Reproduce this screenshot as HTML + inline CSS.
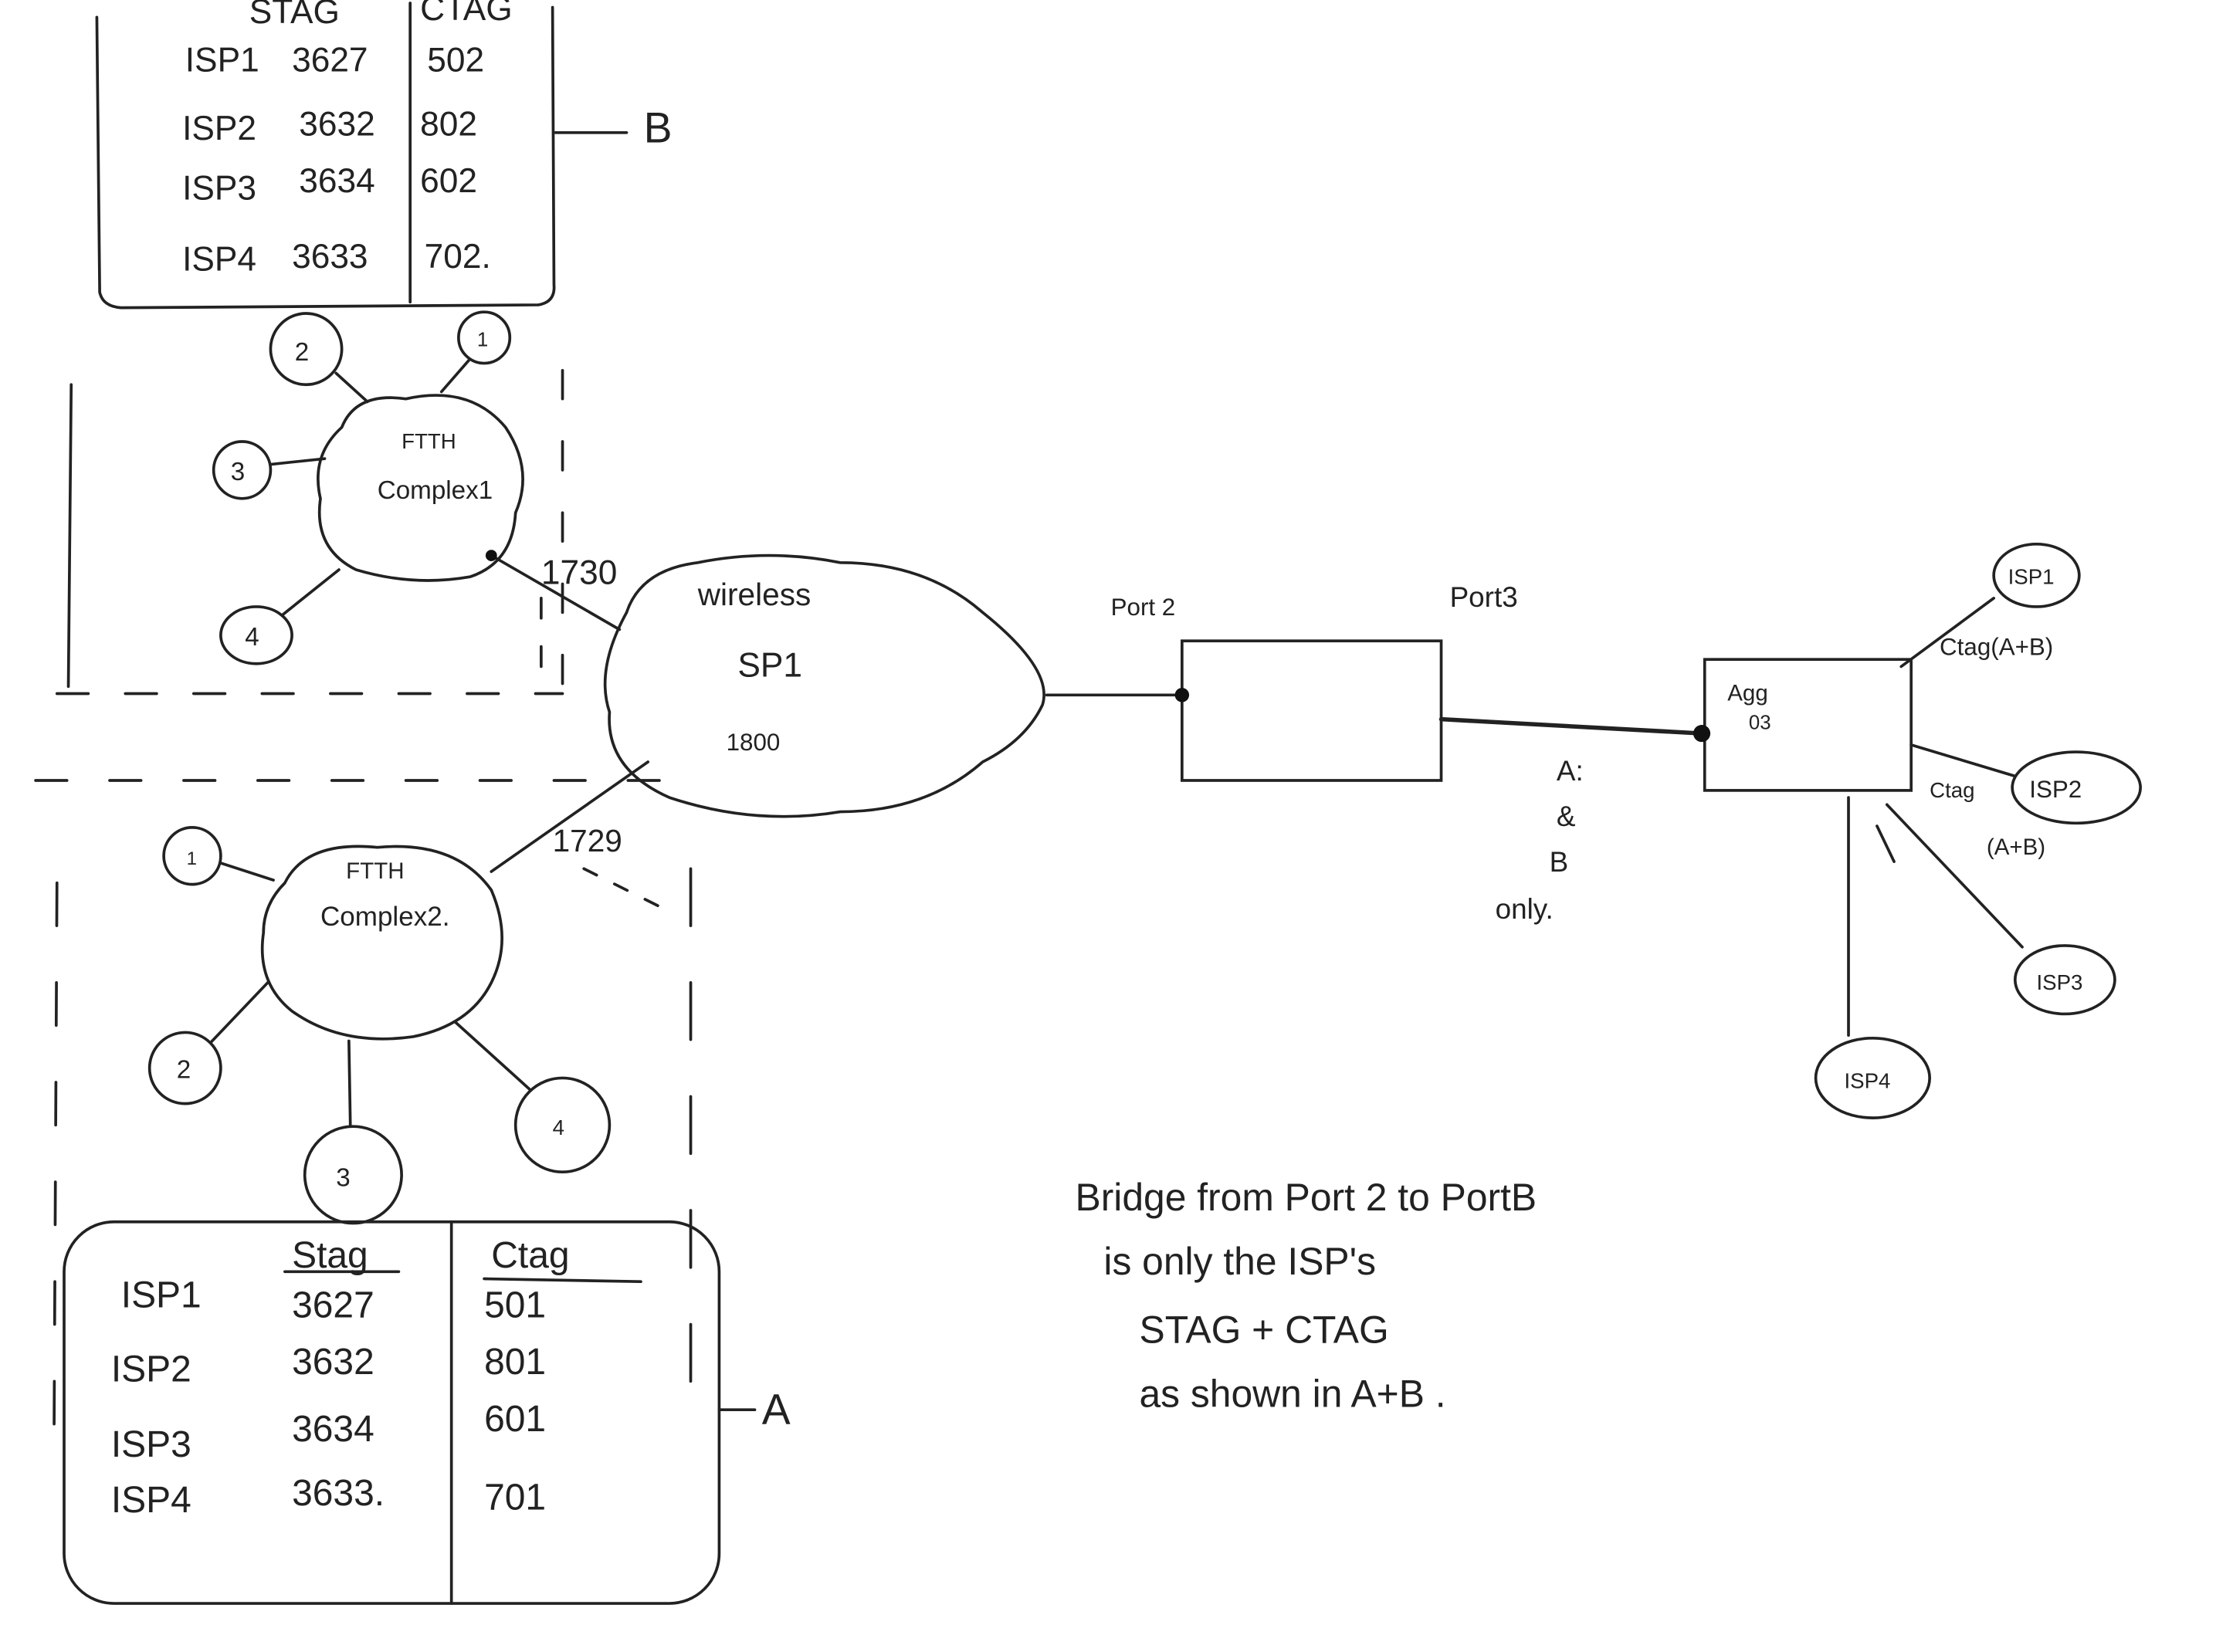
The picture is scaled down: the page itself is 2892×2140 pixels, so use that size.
<!DOCTYPE html>
<html><head><meta charset="utf-8"><style>
html,body{margin:0;padding:0;background:#fff;}
svg{display:block;}
text{font-family:"Liberation Sans",sans-serif;fill:#222;}
</style></head><body>
<svg width="2892" height="2140" viewBox="0 0 1568 1160" xmlns="http://www.w3.org/2000/svg">
<rect width="1568" height="1160" fill="#fff"/>
<g fill="none" stroke="#222" stroke-width="2" stroke-linecap="round">
<!-- Table B -->
<path d="M68 12 L70 205 Q72 215 85 216 L378 214 Q390 212 389 200 L388 5"/>
<line x1="288" y1="2" x2="288" y2="212"/>
<line x1="390" y1="93" x2="440" y2="93"/>
<!-- dashed box 1 -->
<line x1="50" y1="270" x2="48" y2="482"/>
<line x1="40" y1="487" x2="395" y2="487" stroke-dasharray="22 26"/>
<line x1="395" y1="260" x2="395" y2="480" stroke-dasharray="20 30"/>
<line x1="380" y1="420" x2="380" y2="470" stroke-dasharray="14 20"/>
<!-- FTTH1 cloud -->
<path d="M240 300 Q250 275 285 280 Q330 270 355 300 Q375 330 362 360 Q360 395 330 405 Q290 412 250 400 Q220 385 225 350 Q218 320 240 300 Z"/>
<circle cx="215" cy="245" r="25"/>
<circle cx="340" cy="237" r="18"/>
<circle cx="170" cy="330" r="20"/>
<ellipse cx="180" cy="446" rx="25" ry="20"/>
<line x1="236" y1="262" x2="258" y2="282"/>
<line x1="330" y1="252" x2="310" y2="275"/>
<line x1="190" y1="326" x2="228" y2="322"/>
<line x1="198" y1="432" x2="238" y2="400"/>
<!-- links to wireless -->
<line x1="345" y1="390" x2="435" y2="442"/>
<line x1="455" y1="535" x2="345" y2="612"/>
<!-- wireless cloud -->
<path d="M440 430 Q450 400 490 395 Q540 385 590 395 Q650 395 690 430 Q740 470 732 495 Q720 520 690 535 Q650 570 590 570 Q530 580 470 560 Q425 540 428 500 Q418 470 440 430 Z"/>
<!-- dashed middle -->
<line x1="25" y1="548" x2="480" y2="548" stroke-dasharray="22 30"/>
<line x1="40" y1="620" x2="38" y2="1000" stroke-dasharray="30 40"/>
<line x1="485" y1="610" x2="485" y2="1000" stroke-dasharray="40 40"/>
<line x1="410" y1="610" x2="470" y2="640" stroke-dasharray="10 14"/>
<!-- FTTH2 cloud -->
<path d="M200 620 Q215 590 265 595 Q320 590 345 625 Q360 660 345 690 Q330 720 290 728 Q240 735 205 710 Q180 690 185 655 Q185 635 200 620 Z"/>
<circle cx="135" cy="601" r="20"/>
<circle cx="130" cy="750" r="25"/>
<circle cx="248" cy="825" r="34"/>
<circle cx="395" cy="790" r="33"/>
<line x1="155" y1="606" x2="192" y2="618"/>
<line x1="148" y1="732" x2="188" y2="690"/>
<line x1="245" y1="731" x2="246" y2="790"/>
<line x1="320" y1="718" x2="372" y2="765"/>
<!-- Table A -->
<rect x="45" y="858" width="460" height="268" rx="35"/>
<line x1="317" y1="858" x2="317" y2="1126"/>
<line x1="200" y1="893" x2="280" y2="893"/>
<line x1="340" y1="898" x2="450" y2="900"/>
<line x1="505" y1="990" x2="530" y2="990"/>
<!-- port box -->
<line x1="735" y1="488" x2="830" y2="488"/>
<rect x="830" y="450" width="182" height="98"/>
<line x1="1012" y1="505" x2="1195" y2="515" stroke-width="3"/>
<!-- Agg -->
<rect x="1197" y="463" width="145" height="92"/>
<line x1="1335" y1="468" x2="1400" y2="420"/>
<ellipse cx="1430" cy="404" rx="30" ry="22"/>
<line x1="1342" y1="523" x2="1415" y2="545"/>
<ellipse cx="1458" cy="553" rx="45" ry="25"/>
<line x1="1325" y1="565" x2="1420" y2="665"/>
<ellipse cx="1450" cy="688" rx="35" ry="24"/>
<line x1="1298" y1="560" x2="1298" y2="727"/>
<ellipse cx="1315" cy="757" rx="40" ry="28"/>
<line x1="1318" y1="580" x2="1330" y2="605"/>
</g>
<g fill="#111">
<circle cx="345" cy="390" r="4"/>
<circle cx="830" cy="488" r="5"/>
<circle cx="1195" cy="515" r="6"/>
</g>
<!-- Table B text -->
<g font-size="24">
<text x="175" y="16">STAG</text><text x="295" y="14">CTAG</text>
<text x="130" y="50">ISP1</text><text x="205" y="50">3627</text><text x="300" y="50">502</text>
<text x="128" y="98">ISP2</text><text x="210" y="95">3632</text><text x="295" y="95">802</text>
<text x="128" y="140">ISP3</text><text x="210" y="135">3634</text><text x="295" y="135">602</text>
<text x="128" y="190">ISP4</text><text x="205" y="188">3633</text><text x="298" y="188">702.</text>
</g>
<text x="452" y="100" font-size="30">B</text>
<g font-size="18">
<text x="207" y="253">2</text><text x="335" y="243" font-size="14">1</text>
<text x="162" y="337">3</text><text x="172" y="453">4</text>
<text x="282" y="315" font-size="15">FTTH</text><text x="265" y="350">Complex1</text>
<text x="380" y="410" font-size="24">1730</text>
<text x="490" y="425" font-size="22">wireless</text>
<text x="518" y="475" font-size="24">SP1</text>
<text x="510" y="527" font-size="17">1800</text>
<text x="388" y="598" font-size="22">1729</text>
<text x="243" y="617" font-size="16">FTTH</text><text x="225" y="650" font-size="19">Complex2.</text>
<text x="131" y="607" font-size="13">1</text><text x="124" y="757">2</text>
<text x="236" y="833">3</text><text x="388" y="797" font-size="15">4</text>
</g>
<!-- Table A text -->
<g font-size="26">
<text x="205" y="890">Stag</text><text x="345" y="890">Ctag</text>
<text x="85" y="918">ISP1</text><text x="205" y="925">3627</text><text x="340" y="925">501</text>
<text x="78" y="970">ISP2</text><text x="205" y="965">3632</text><text x="340" y="965">801</text>
<text x="78" y="1023">ISP3</text><text x="205" y="1012">3634</text><text x="340" y="1005">601</text>
<text x="78" y="1062">ISP4</text><text x="205" y="1057">3633.</text><text x="340" y="1060">701</text>
</g>
<text x="535" y="1000" font-size="30">A</text>
<g font-size="20">
<text x="780" y="432" font-size="17">Port 2</text>
<text x="1018" y="426">Port3</text>
<text x="1093" y="548">A:</text>
<text x="1093" y="580">&amp;</text>
<text x="1088" y="612">B</text>
<text x="1050" y="645">only.</text>
<text x="1213" y="492" font-size="16">Agg</text><text x="1228" y="512" font-size="14">03</text>
<text x="1410" y="410" font-size="15">ISP1</text>
<text x="1362" y="460" font-size="17">Ctag(A+B)</text>
<text x="1425" y="560" font-size="17">ISP2</text>
<text x="1355" y="560" font-size="15">Ctag</text><text x="1395" y="600" font-size="16">(A+B)</text>
<text x="1430" y="695" font-size="15">ISP3</text>
<text x="1295" y="764" font-size="15">ISP4</text>
</g>
<g font-size="27">
<text x="755" y="850">Bridge from Port 2 to PortB</text>
<text x="775" y="895">is only  the ISP's</text>
<text x="800" y="943">STAG + CTAG</text>
<text x="800" y="988">as shown in A+B .</text>
</g>
</svg>
</body></html>
